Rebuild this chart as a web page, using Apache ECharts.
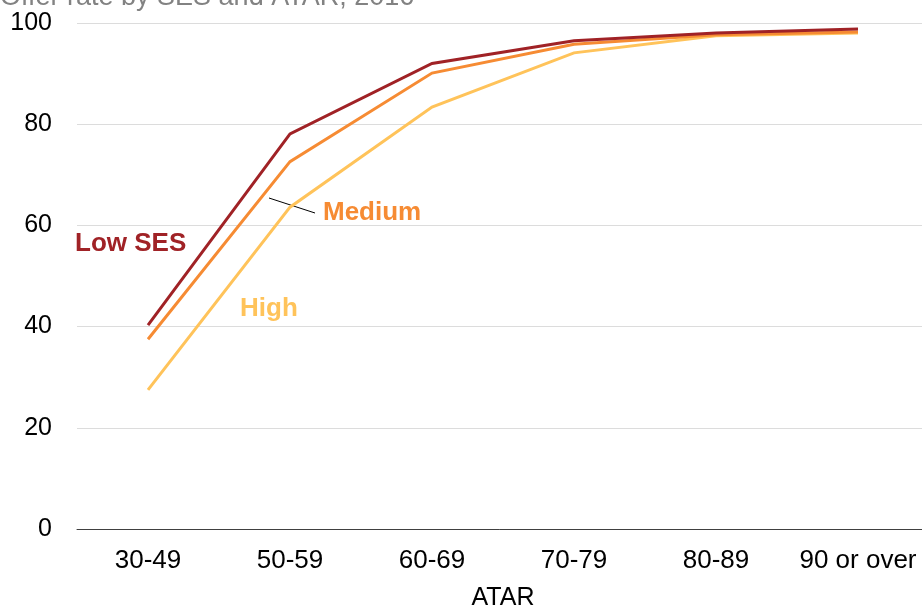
<!DOCTYPE html>
<html>
<head>
<meta charset="utf-8">
<script src="https://cdn.jsdelivr.net/npm/echarts@6/dist/echarts.min.js"></script>
<style>
  html, body { margin: 0; padding: 0; background: #fff; }
  #chart { width: 922px; height: 607px; }
</style>
</head>
<body>
<div id="chart"></div>
<script>
// Offer rate (%) by ATAR band for each SES group
const atarBands = ['30-49', '50-59', '60-69', '70-79', '80-89', '90 or over'];
const lowSES    = [40.3, 78.1, 92.0, 96.5, 98.0, 98.8];
const mediumSES = [37.5, 72.6, 90.1, 95.8, 97.7, 98.2];
const highSES   = [27.5, 63.6, 83.4, 94.1, 97.5, 98.0];
const yTicks = { min: 0, max: 100, interval: 20 };

const FONT = '"Liberation Sans", Arial, sans-serif';
const C_LOW = '#A02226', C_MED = '#F68B33', C_HIGH = '#FFC35A';

const chart = echarts.init(document.getElementById('chart'), null, { renderer: 'canvas' });

function line(name, data, color) {
  return {
    name, type: 'line', data,
    symbol: 'none',
    lineStyle: { color, width: 3, join: 'miter' },
    itemStyle: { color },
    animation: false
  };
}

chart.setOption({
  animation: false,
  textStyle: { fontFamily: FONT },
  grid: {
    left: 77, top: 23, width: 852, height: 506,
    containLabel: false,
    outerBoundsMode: 'none'
  },
  xAxis: {
    type: 'category',
    data: atarBands,
    boundaryGap: true,
    name: 'ATAR',
    nameLocation: 'middle',
    nameGap: 57,
    nameTextStyle: { fontSize: 25, color: '#000', fontFamily: FONT },
    axisLine: { lineStyle: { color: '#404040', width: 1 } },
    axisTick: { show: false },
    axisLabel: { interval: 0, fontSize: 26, color: '#000', margin: 19, fontFamily: FONT }
  },
  yAxis: {
    type: 'value',
    min: yTicks.min, max: yTicks.max, interval: yTicks.interval,
    axisLine: { show: false },
    axisTick: { show: false },
    splitLine: { lineStyle: { color: '#dcdcdc', width: 1 } },
    axisLabel: { fontSize: 25, color: '#000', margin: 25, fontFamily: FONT }
  },
  series: [
    line('High', highSES, C_HIGH),
    line('Medium', mediumSES, C_MED),
    line('Low SES', lowSES, C_LOW)
  ],
  graphic: [
    {
      type: 'text', x: 0, y: 11,
      style: { text: 'Offer rate by SES and ATAR, 2016', fill: '#828282', font: '27px ' + FONT, verticalAlign: 'bottom' }
    },
    {
      type: 'text', x: 75, y: 244,
      style: { text: 'Low SES', fill: C_LOW, font: 'bold 26px ' + FONT, verticalAlign: 'middle' }
    },
    {
      type: 'text', x: 323, y: 213,
      style: { text: 'Medium', fill: C_MED, font: 'bold 26px ' + FONT, verticalAlign: 'middle' }
    },
    {
      type: 'text', x: 240, y: 309,
      style: { text: 'High', fill: C_HIGH, font: 'bold 26px ' + FONT, verticalAlign: 'middle' }
    },
    {
      type: 'line',
      shape: { x1: 269, y1: 198, x2: 315, y2: 213 },
      style: { stroke: '#000', lineWidth: 1 }
    }
  ]
});
</script>
</body>
</html>
